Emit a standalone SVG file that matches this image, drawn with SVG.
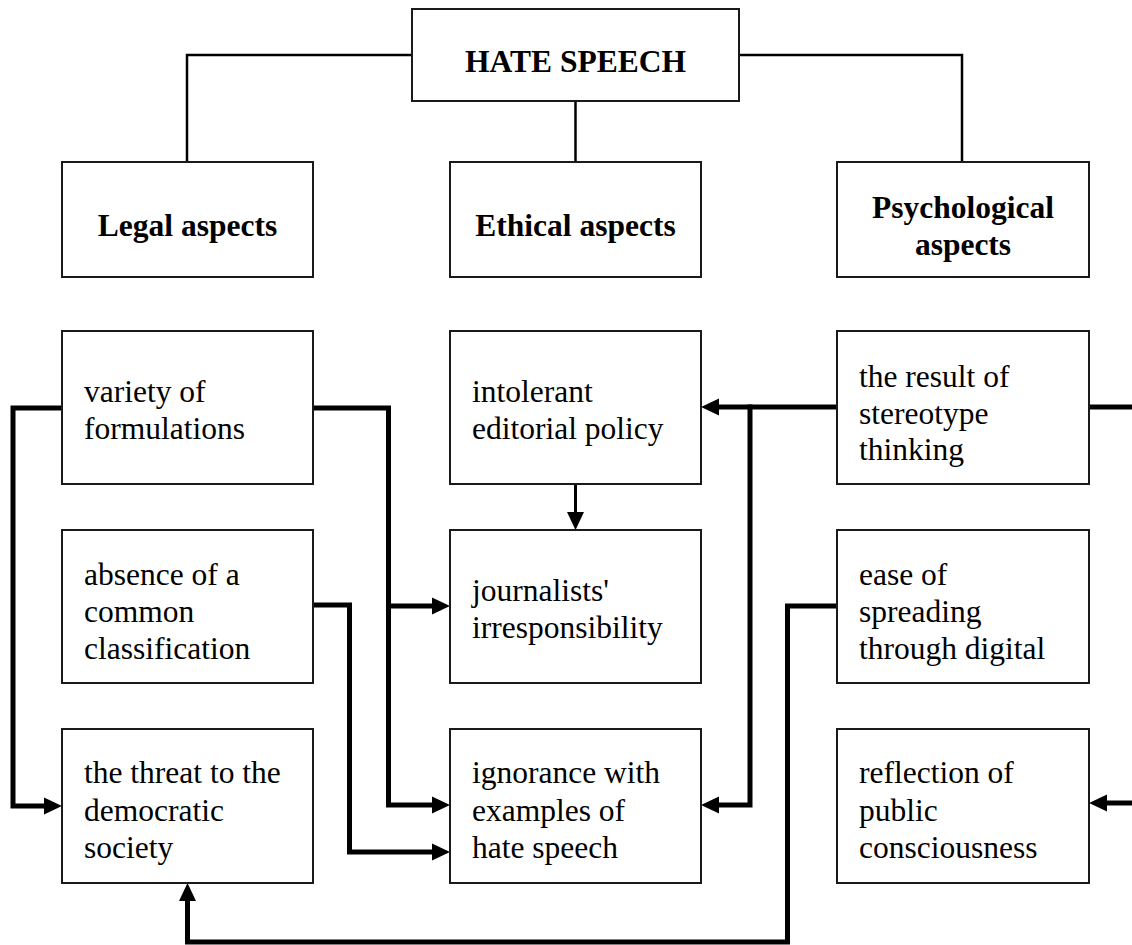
<svg xmlns="http://www.w3.org/2000/svg" width="1132" height="945" viewBox="0 0 1132 945">
<style>
.box{fill:#fff;stroke:#1a1a1a;stroke-width:2}
.t{font-family:"Liberation Serif","Times New Roman",serif;font-size:31.5px;fill:#000}
.b{font-weight:bold;text-anchor:middle}
.thin{fill:none;stroke:#000;stroke-width:2.5;stroke-linejoin:miter}
.thick{fill:none;stroke:#000;stroke-width:5;stroke-linejoin:miter}
.mid{fill:none;stroke:#000;stroke-width:3}
</style>
<defs>
<marker id="arr" markerUnits="userSpaceOnUse" viewBox="0 0 18 18" markerWidth="18" markerHeight="18" refX="8" refY="9" orient="auto">
<path d="M0,0.5 L18,9 L0,17.5 z" fill="#000"/>
</marker>
</defs>
<rect width="1132" height="945" fill="#fff"/>
<g id="connectors">
<path class="thin" d="M412,55 H187 V162"/>
<path class="thin" d="M739,55 H962 V162"/>
<path class="thin" d="M575.5,101 V162"/>
<path class="thick" d="M313,408 H388.5 V805 H440" marker-end="url(#arr)"/>
<path class="thick" d="M388.5,606 H440" marker-end="url(#arr)"/>
<path class="thick" d="M62,408 H13 V806 H52" marker-end="url(#arr)"/>
<path class="thick" d="M313,605 H349.5 V852 H440" marker-end="url(#arr)"/>
<path class="thick" d="M837,407 H711" marker-end="url(#arr)"/>
<path class="thick" d="M750,404.5 V805 H711" marker-end="url(#arr)"/>
<path class="thick" d="M1089,407 H1132"/>
<path class="thick" d="M1132,803 H1099" marker-end="url(#arr)"/>
<path class="thick" d="M837,606 H787.5 V942 H187.5 V893" marker-end="url(#arr)"/>
<path class="mid" d="M575.5,484 V520" marker-end="url(#arr)"/>
</g>
<g id="hate-speech"><rect class="box" x="412" y="9" width="327" height="92"/><text class="t b" x="575.5" y="72">HATE SPEECH</text></g>
<g id="legal"><rect class="box" x="62" y="162" width="251" height="115"/><text class="t b" x="187.5" y="236">Legal aspects</text></g>
<g id="ethical"><rect class="box" x="450" y="162" width="251" height="115"/><text class="t b" x="575.5" y="236">Ethical aspects</text></g>
<g id="psychological"><rect class="box" x="837" y="162" width="252" height="115"/><text class="t b" x="963" y="218">Psychological</text><text class="t b" x="963" y="255">aspects</text></g>
<g id="variety"><rect class="box" x="62" y="331" width="251" height="153"/><text class="t" x="84" y="402">variety of</text><text class="t" x="84" y="439">formulations</text></g>
<g id="intolerant"><rect class="box" x="450" y="331" width="251" height="153"/><text class="t" x="472" y="402">intolerant</text><text class="t" x="472" y="439">editorial policy</text></g>
<g id="stereotype"><rect class="box" x="837" y="331" width="252" height="153"/><text class="t" x="859" y="387">the result of</text><text class="t" x="859" y="424">stereotype</text><text class="t" x="859" y="460">thinking</text></g>
<g id="absence"><rect class="box" x="62" y="530" width="251" height="153"/><text class="t" x="84" y="585">absence of a</text><text class="t" x="84" y="622">common</text><text class="t" x="84" y="659">classification</text></g>
<g id="journalists"><rect class="box" x="450" y="530" width="251" height="153"/><text class="t" x="472" y="601">journalists'</text><text class="t" x="472" y="638">irresponsibility</text></g>
<g id="ease"><rect class="box" x="837" y="530" width="252" height="153"/><text class="t" x="859" y="585">ease of</text><text class="t" x="859" y="622">spreading</text><text class="t" x="859" y="659">through digital</text></g>
<g id="threat"><rect class="box" x="62" y="729" width="251" height="154"/><text class="t" x="84" y="783">the threat to the</text><text class="t" x="84" y="821">democratic</text><text class="t" x="84" y="858">society</text></g>
<g id="ignorance"><rect class="box" x="450" y="729" width="251" height="154"/><text class="t" x="472" y="783">ignorance with</text><text class="t" x="472" y="821">examples of</text><text class="t" x="472" y="858">hate speech</text></g>
<g id="reflection"><rect class="box" x="837" y="729" width="252" height="154"/><text class="t" x="859" y="783">reflection of</text><text class="t" x="859" y="821">public</text><text class="t" x="859" y="858">consciousness</text></g>
</svg>
